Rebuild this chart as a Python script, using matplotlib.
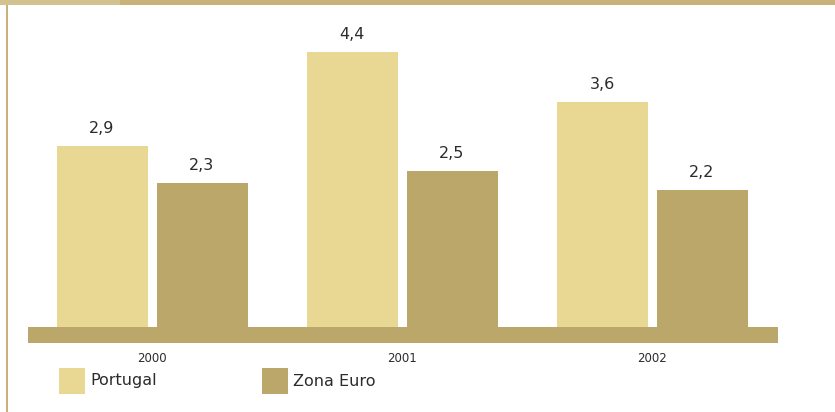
import matplotlib
matplotlib.use("Agg")
import matplotlib.pyplot as plt
from matplotlib.patches import Rectangle
import numpy as np

years = ["2000", "2001", "2002"]
portugal = [2.9, 4.4, 3.6]
zona_euro = [2.3, 2.5, 2.2]
value_labels_pt = ["2,9", "4,4", "3,6"]
value_labels_ze = ["2,3", "2,5", "2,2"]
series_names = ["Portugal", "Zona Euro"]

C_PT = "#e8d894"
C_ZE = "#bca76a"
C_BORDER = "#c8b27a"
TXT = "#2b2b2b"

W, H = 835, 412
fig = plt.figure(figsize=(W / 100, H / 100), dpi=100)
fig.patch.set_facecolor("white")

ppu = 62.4  # pixels per unit
floor_px = 16
ax_left, ax_right = 28, 778
ax_bottom_px = H - 343
ax_top_px = H - 0
ax = fig.add_axes([ax_left / W, ax_bottom_px / H, (ax_right - ax_left) / W,
                   (ax_top_px - ax_bottom_px) / H])
ax.set_xlim(-0.496, 2.504)
ax.set_ylim(-floor_px / ppu, (343 - floor_px) / ppu)
for s in ax.spines.values():
    s.set_visible(False)
ax.set_facecolor("none")

x = np.arange(len(years))
bw = 91 / 250
off = 0.2
ax.bar(x - off, portugal, bw, color=C_PT, zorder=2)
ax.bar(x + off, zona_euro, bw, color=C_ZE, zorder=2)

# floor band
ax.add_patch(Rectangle((0, 0), 1, floor_px / 343, transform=ax.transAxes,
                       color=C_ZE, zorder=3, lw=0))

for xi, v, t in zip(x - off, portugal, value_labels_pt):
    ax.annotate(t, (xi, v), xytext=(0, 9.4), textcoords="offset points",
                ha="center", va="baseline", fontsize=11.5, color=TXT)
for xi, v, t in zip(x + off, zona_euro, value_labels_ze):
    ax.annotate(t, (xi, v), xytext=(0, 9.4), textcoords="offset points",
                ha="center", va="baseline", fontsize=11.5, color=TXT)

ax.set_xticks(x)
ax.set_xticklabels(years, fontsize=8.5, color=TXT)
ax.tick_params(axis="x", length=0, pad=6.5)
ax.set_yticks([])

# borders
fig.patches.append(Rectangle((0, (H - 4.5) / H), 1, 4.5 / H, transform=fig.transFigure,
                             color=C_BORDER, lw=0, zorder=5))
fig.patches.append(Rectangle((0, (H - 4.5) / H), 120 / W, 4.5 / H, transform=fig.transFigure,
                             color="#d3c190", lw=0, zorder=6))
fig.patches.append(Rectangle((5.5 / W, 0), 2 / W, 1, transform=fig.transFigure,
                             color=C_BORDER, lw=0, zorder=5))

# legend
for x0, col, name in [(59, C_PT, series_names[0]), (262, C_ZE, series_names[1])]:
    fig.patches.append(Rectangle((x0 / W, (H - 394) / H), 26 / W, 26 / H,
                                 transform=fig.transFigure, color=col, lw=0))
    fig.text((x0 + 31) / W, (H - 381) / H, name, fontsize=11.5, color=TXT,
             ha="left", va="center")

fig.savefig("out.png", dpi=100)
